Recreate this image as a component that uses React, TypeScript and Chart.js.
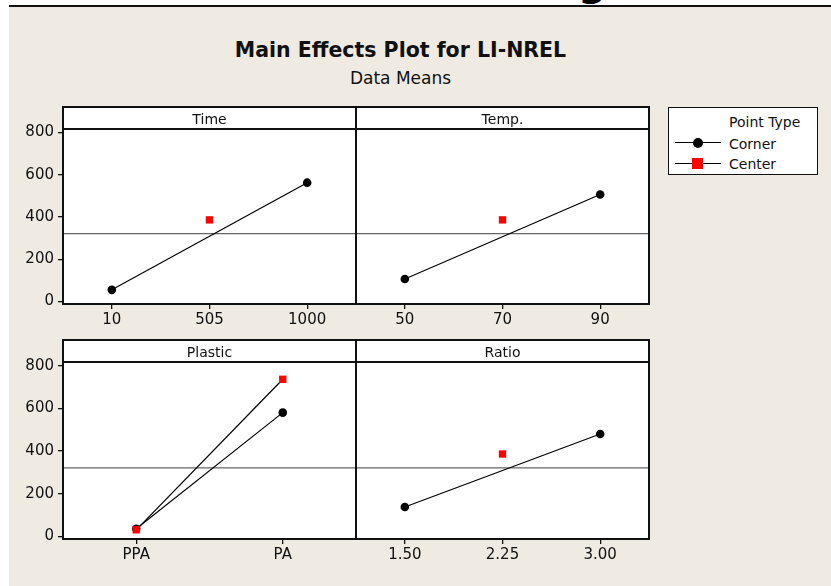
import React, { useEffect, useRef } from "react";
import { Chart, registerables } from "chart.js";

Chart.register(...registerables);

// Factor levels (x tick labels) and mean response per level
const timeLevels = ["10", "505", "1000"];
const timeCorner = [55, null, 562];
const timeCenter = [null, 386, null];

const tempLevels = ["50", "70", "90"];
const tempCorner = [106, null, 506];
const tempCenter = [null, 386, null];

const plasticLevels = ["PPA", "PA"];
const plasticCorner = [36, 580];
const plasticCenter = [31, 736];

const ratioLevels = ["1.50", "2.25", "3.00"];
const ratioCorner = [138, null, 480];
const ratioCenter = [null, 386, null];

const yTicks = [0, 200, 400, 600, 800];
const grandMean = 321;

const FONT = '"DejaVu Sans", sans-serif';
const BG = "#EFEBE2";
const HEADER_H = 22;

type Box = [number, number, number, number];

const toPoints = (vals: (number | null)[]) =>
  vals
    .map((v, i) => (v === null ? null : { x: i, y: v }))
    .filter((p) => p !== null) as { x: number; y: number }[];

const panelFrame = {
  id: "panelFrame",
  beforeDraw(chart: any) {
    const { ctx, chartArea: a } = chart;
    ctx.save();
    ctx.fillStyle = "#ffffff";
    ctx.fillRect(a.left, a.top, a.right - a.left, a.bottom - a.top);
    ctx.restore();
  },
  afterDraw(chart: any) {
    const { ctx, chartArea: a } = chart;
    const title = chart.options.plugins.panelFrame.title;
    ctx.save();
    ctx.strokeStyle = "#111";
    ctx.lineWidth = 2;
    ctx.strokeRect(a.left, a.top, a.right - a.left, a.bottom - a.top);
    ctx.beginPath();
    ctx.moveTo(a.left, a.top + HEADER_H);
    ctx.lineTo(a.right, a.top + HEADER_H);
    ctx.stroke();
    ctx.fillStyle = "#111";
    ctx.font = `14px ${FONT}`;
    ctx.textAlign = "center";
    ctx.textBaseline = "alphabetic";
    ctx.fillText(title, (a.left + a.right) / 2, a.top + 17);
    ctx.restore();
  },
};

function Panel(props: {
  title: string;
  levels: string[];
  corner: (number | null)[];
  center: (number | null)[];
  showY: boolean;
  area: Box;
}) {
  const ref = useRef<HTMLCanvasElement | null>(null);
  const { title, levels, corner, center, showY, area } = props;
  const [l, t, r, b] = area;
  const cLeft = showY ? 9 : l - 6;
  const cTop = t - 24;
  const cRight = r + 6;
  const cBottom = b + 34;
  const w = cRight - cLeft;
  const h = cBottom - cTop;

  useEffect(() => {
    if (!ref.current) return;
    const n = levels.length;
    const chart = new Chart(ref.current, {
      type: "line",
      data: {
        datasets: [
          {
            label: "Center",
            data: toPoints(center),
            borderColor: "#000",
            borderWidth: 1.2,
            pointStyle: "rect",
            pointRadius: 5.2,
            pointBackgroundColor: "#ff0000",
            pointBorderColor: "#ff0000",
            pointBorderWidth: 0,
            order: 0,
          },
          {
            label: "Corner",
            data: toPoints(corner),
            borderColor: "#000",
            borderWidth: 1.2,
            pointStyle: "circle",
            pointRadius: 4.3,
            pointBackgroundColor: "#000",
            pointBorderColor: "#000",
            pointBorderWidth: 0,
            order: 1,
          },
          {
            label: "Mean",
            data: [
              { x: -0.5, y: grandMean },
              { x: n - 0.5, y: grandMean },
            ],
            borderColor: "#666",
            borderWidth: 1.3,
            pointRadius: 0,
            order: 2,
          },
        ],
      },
      options: {
        animation: false,
        responsive: false,
        maintainAspectRatio: false,
        devicePixelRatio: 1,
        events: [],
        layout: {
          padding: {
            left: showY ? 0 : l - cLeft,
            top: t - cTop,
            right: cRight - r,
            bottom: 0,
          },
        },
        plugins: {
          legend: { display: false },
          tooltip: { enabled: false },
          // @ts-ignore
          panelFrame: { title },
        },
        scales: {
          x: {
            type: "linear",
            min: -0.5,
            max: n - 0.5,
            afterBuildTicks: (s: any) => {
              s.ticks = levels.map((_, i) => ({ value: i }));
            },
            afterFit: (s: any) => {
              s.height = cBottom - b;
            },
            ticks: {
              autoSkip: false,
              maxRotation: 0,
              padding: 2,
              color: "#111",
              font: { family: FONT, size: 15 },
              callback: (v: any) => levels[Number(v)] ?? "",
            },
            grid: {
              drawOnChartArea: false,
              drawTicks: true,
              tickLength: 5,
              color: "#111",
              lineWidth: 1.3,
            },
            border: { display: false },
          },
          y: {
            type: "linear",
            display: showY,
            min: -12,
            max: 920,
            afterBuildTicks: (s: any) => {
              s.ticks = yTicks.map((v) => ({ value: v }));
            },
            afterFit: (s: any) => {
              s.width = showY ? l - cLeft : 0;
            },
            ticks: {
              padding: 4,
              color: "#111",
              font: { family: FONT, size: 15 },
              callback: (v: any) => String(v),
            },
            grid: {
              drawOnChartArea: false,
              drawTicks: true,
              tickLength: 5,
              color: "#111",
              lineWidth: 1.3,
            },
            border: { display: false },
          },
        },
      },
      plugins: [panelFrame],
    });
    return () => chart.destroy();
  }, []);

  return (
    <canvas
      ref={ref}
      width={w}
      height={h}
      style={{ position: "absolute", left: cLeft, top: cTop, width: w, height: h }}
    />
  );
}

const abs = (s: React.CSSProperties): React.CSSProperties => ({ position: "absolute", ...s });

export default function App() {
  return (
    <div
      style={abs({
        left: 0,
        top: 0,
        width: 831,
        height: 586,
        overflow: "hidden",
        background: "#ffffff",
        fontFamily: FONT,
      })}
    >
      {/* page heading above the figure, mostly cut off */}
      <div style={abs({ left: 560, top: 0, width: 60, height: 5, overflow: "hidden" })}>
        <div style={abs({ left: 18, top: -39.5, fontSize: 40, lineHeight: "40px", fontWeight: "bold", color: "#000" })}>g</div>
      </div>
      <div style={abs({ left: 9, top: 5, width: 822, height: 2, background: "#111" })} />
      <div style={abs({ left: 9, top: 7, width: 822, height: 579, background: BG })} />

      <div
        style={abs({
          left: 150,
          top: 40,
          width: 501,
          textAlign: "center",
          fontSize: 20.5,
          lineHeight: "20px",
          fontWeight: "bold",
          color: "#111",
          whiteSpace: "nowrap",
        })}
      >
        Main Effects Plot for LI-NREL
      </div>
      <div
        style={abs({
          left: 200,
          top: 69.6,
          width: 401,
          textAlign: "center",
          fontSize: 17,
          lineHeight: "17px",
          color: "#111",
          whiteSpace: "nowrap",
        })}
      >
        Data Means
      </div>

      <Panel title="Time" levels={timeLevels} corner={timeCorner} center={timeCenter} showY={true} area={[63, 107, 356, 304]} />
      <Panel title="Temp." levels={tempLevels} corner={tempCorner} center={tempCenter} showY={false} area={[356, 107, 649, 304]} />
      <Panel title="Plastic" levels={plasticLevels} corner={plasticCorner} center={plasticCenter} showY={true} area={[63, 340, 356, 539]} />
      <Panel title="Ratio" levels={ratioLevels} corner={ratioCorner} center={ratioCenter} showY={false} area={[356, 340, 649, 539]} />

      {/* legend */}
      <div
        style={abs({
          left: 668,
          top: 107,
          width: 150,
          height: 68,
          background: "#ffffff",
          border: "1.5px solid #111",
          boxSizing: "border-box",
        })}
      />
      <div style={abs({ left: 729, top: 114.6, fontSize: 14, lineHeight: "14px", color: "#111", whiteSpace: "nowrap" })}>Point Type</div>
      <div style={abs({ left: 675, top: 141.5, width: 46, height: 1.3, background: "#000" })} />
      <div style={abs({ left: 693, top: 137.5, width: 10, height: 10, borderRadius: "50%", background: "#000" })} />
      <div style={abs({ left: 729, top: 136.6, fontSize: 14, lineHeight: "14px", color: "#111", whiteSpace: "nowrap" })}>Corner</div>
      <div style={abs({ left: 675, top: 162.5, width: 46, height: 1.3, background: "#000" })} />
      <div style={abs({ left: 692, top: 157.7, width: 11, height: 11, background: "#ff0000" })} />
      <div style={abs({ left: 729, top: 157.1, fontSize: 14, lineHeight: "14px", color: "#111", whiteSpace: "nowrap" })}>Center</div>
    </div>
  );
}
